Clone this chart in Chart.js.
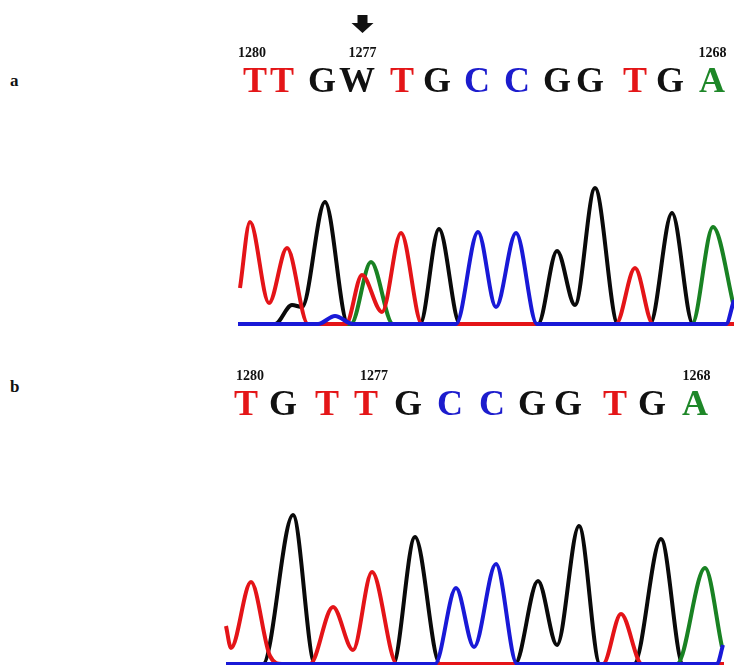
<!DOCTYPE html>
<html>
<head>
<meta charset="utf-8">
<script src="https://cdn.jsdelivr.net/npm/chart.js@4/dist/chart.umd.min.js"></script>
<style>
body{margin:0;background:#fff;width:734px;height:665px;overflow:hidden;position:relative;font-family:"Liberation Serif",serif;}
canvas{position:absolute;left:0;}
.tag{position:absolute;left:10px;font-weight:bold;font-size:17px;color:#111;}
</style>
</head>
<body>
<div class="tag" style="top:71px">a</div>
<div class="tag" style="top:377px">b</div>
<canvas id="chartA" width="734" height="345" style="top:0"></canvas>
<canvas id="chartB" width="734" height="320" style="top:345px"></canvas>
<script>
// trace points [scan, signal]
// panel a (heterozygous)
var redA   = [[2,36],[12,102],[31,21],[49,76],[70,0],[108,0],[124,49],[144,12],[163,91],[184,0],[378,0],[397,56],[415,0],[496,0]];
var blackA = [[0,0],[37,0],[54,19],[64,17],[87,122],[110,0],[182,0],[201,95],[222,0],[300,0],[319,73],[337,19],[357,136],[380,0],[412,0],[434,111],[455,0],[496,0]];
var blueA  = [[0,0],[80,0],[97,8],[115,0],[218,0],[240,92],[258,17],[278,91],[299,0],[488,0],[496,24]];
var greenA = [[0,0],[113,0],[133,62],[155,0],[454,0],[475,97],[495,21],[496,16]];
var basesA   = ['T','T','G','W','T','G','C','C','G','G','T','G','A'];
var basePosA = [17,44,84,119,164,199,239,279,319,352,397,432,474];
var numsA    = ['1280','1277','1268'];
var numPosA  = [14,124.5,474.5];
var arrowPosA = 124.5;

// panel b (wild type)
var redB   = [[0,38],[5,16],[25,82],[44,8],[56,0],[84,0],[107,57],[127,14],[146,92],[171,0],[377,0],[395,50],[416,0],[498,0]];
var blackB = [[0,0],[37,0],[67,149],[89,0],[167,0],[189,127],[214,0],[289,0],[312,83],[331,19],[353,138],[374,0],[408,0],[435,125],[457,0],[498,0]];
var blueB  = [[0,0],[209,0],[230,76],[248,17],[270,100],[291,0],[491,0],[497,19]];
var greenB = [[0,0],[451,0],[479,96],[496,17]];
var basesB   = ['T','G','T','T','G','C','C','G','G','T','G','A'];
var basePosB = [20,57,101,140,182,224,266,306,342,389,426,469];
var numsB    = ['1280','1277','1268'];
var numPosB  = [24,148,470.5];

var baseColor = {T:'rgb(228,22,24)', G:'#111', W:'#111', C:'rgb(28,28,205)', A:'rgb(30,135,40)'};

function pts(arr){
    return arr.map(function(p){ return {x:p[0], y:p[1]}; });
}

function trace(label, arr, color){
    return {
        label: label,
        data: pts(arr),
        borderColor: color,
        borderWidth: 4,
        pointRadius: 0,
        cubicInterpolationMode: 'monotone',
        clip: 10,
        fill: false
    };
}

// draws base calls + position numbers (+ arrow) above the traces
function basesPlugin(bases, pos, nums, numPos, letterY, numY, arrow){
    return {
        id: 'bases',
        afterDraw: function(chart){
            var ctx = chart.ctx, xs = chart.scales.x;
            ctx.save();
            ctx.textAlign = 'center';
            ctx.textBaseline = 'alphabetic';
            ctx.font = 'bold 36px "Liberation Serif", serif';
            for (var i = 0; i < bases.length; i++) {
                ctx.fillStyle = baseColor[bases[i]];
                ctx.fillText(bases[i], xs.getPixelForValue(pos[i]), letterY);
            }
            ctx.font = 'bold 14px "Liberation Serif", serif';
            ctx.fillStyle = '#111';
            for (var j = 0; j < nums.length; j++) {
                ctx.fillText(nums[j], xs.getPixelForValue(numPos[j]), numY);
            }
            if (arrow !== null) {
                var cx = xs.getPixelForValue(arrow);
                ctx.beginPath();
                ctx.moveTo(cx-5, 15); ctx.lineTo(cx+5, 15); ctx.lineTo(cx+5, 23);
                ctx.lineTo(cx+11, 23); ctx.lineTo(cx, 33); ctx.lineTo(cx-11, 23);
                ctx.lineTo(cx-5, 23); ctx.closePath();
                ctx.fill();
            }
            ctx.restore();
        }
    };
}

function makeChart(id, sets, xmax, pad, plugin){
    return new Chart(document.getElementById(id).getContext('2d'), {
        type: 'line',
        data: {
            datasets: [
                trace('C', sets[2], 'rgb(25,25,215)'),
                trace('T', sets[0], 'rgb(228,20,24)'),
                trace('A', sets[3], 'rgb(25,130,35)'),
                trace('G', sets[1], '#0a0a0a')
            ]
        },
        options: {
            responsive: false,
            animation: false,
            layout: {padding: pad},
            plugins: {legend: {display: false}, tooltip: {enabled: false}},
            scales: {
                x: {type: 'linear', min: 0, max: xmax, display: false},
                y: {min: 0, max: 150, display: false}
            }
        },
        plugins: [plugin]
    });
}

makeChart('chartA', [redA, blackA, blueA, greenA], 496,
    {left: 238, right: 0, top: 174, bottom: 21},
    basesPlugin(basesA, basePosA, numsA, numPosA, 91.5, 57, arrowPosA));

makeChart('chartB', [redB, blackB, blueB, greenB], 508,
    {left: 226, right: 0, top: 169, bottom: 1},
    basesPlugin(basesB, basePosB, numsB, numPosB, 70, 35, null));
</script>
</body>
</html>
